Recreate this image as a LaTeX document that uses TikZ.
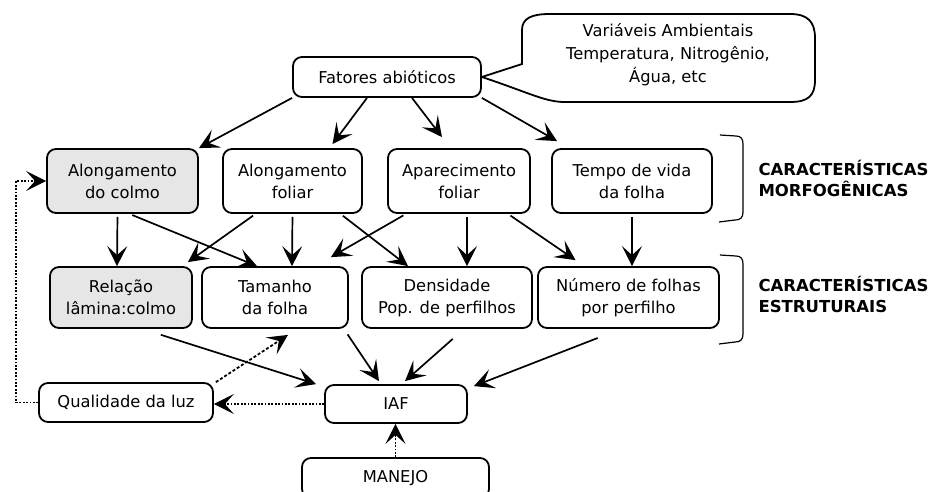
\documentclass[tikz,border=0pt]{standalone}
\usepackage{fontspec}
\setmainfont{DejaVu Sans}
\usetikzlibrary{arrows.meta}
\definecolor{cinza}{HTML}{E6E6E6}
\tikzset{
    caixa/.style={draw, rounded corners=9pt, line width=1.8pt, align=center, inner sep=0pt, font=\fontsize{16.3}{22}\selectfont},
    seta/.style={-{Stealth[length=20pt,width=20pt,inset=9pt]}, line width=1.7pt, shorten <=3pt},
    pontilhada/.style={-{Stealth[length=20pt,width=20pt,inset=9pt]}, line width=1.8pt, dash pattern=on 1.8pt off 1.6pt},
    rotulo/.style={anchor=west, align=left, font=\bfseries\fontsize{16.5}{21}\selectfont},
    chave/.style={line width=1.2pt}
}

\begin{document}
\begin{tikzpicture}[x=1pt,y=-1pt]
    \useasboundingbox (0,0) rectangle (938,491);
    \node[caixa, minimum width=188pt, minimum height=40pt] (fatores) at (387,77) {Fatores abióticos};
    \draw[line width=1.8pt] (fatores.east) -- (522,64) -- (522,30) .. controls (522,18) and (532,14) .. (550,14) -- (790,14) .. controls (808,14) and (815,22) .. (815,38) -- (815,80) .. controls (815,96) and (808,102) .. (790,102) -- (565,102) .. controls (545,102) and (530,93) .. (fatores.east);
    \node[align=center, font=\fontsize{16.3}{23}\selectfont] (variaveis) at (668,55) {Variáveis Ambientais\\Temperatura, Nitrogênio,\\Água, etc};

    \node[caixa, fill=cinza, minimum width=151pt, minimum height=64pt] (acolmo) at (122.5,181) {Alongamento\\do colmo};
    \node[caixa, minimum width=139pt, minimum height=64pt] (afol) at (292.5,181) {Alongamento\\foliar};
    \node[caixa, minimum width=142pt, minimum height=64pt] (apar) at (459,181) {Aparecimento\\foliar};
    \node[caixa, minimum width=160pt, minimum height=64pt] (tempo) at (632,181) {Tempo de vida\\da folha};

    \node[caixa, fill=cinza, minimum width=142pt, minimum height=61pt] (rel) at (121,297.5) {Relação\\lâmina:colmo};
    \node[caixa, minimum width=146pt, minimum height=61pt] (tam) at (275,297.5) {Tamanho\\da folha};
    \node[caixa, minimum width=170pt, minimum height=61pt] (dens) at (447,297.5) {Densidade\\Pop. de perfilhos};
    \node[caixa, minimum width=181pt, minimum height=61pt] (num) at (628.5,297.5) {Número de folhas\\por perfilho};

    \node[caixa, minimum width=174pt, minimum height=39pt] (qual) at (126,402.5) {Qualidade da luz};
    \node[caixa, minimum width=142pt, minimum height=38pt] (iaf) at (396,404) {IAF};
    \node[caixa, minimum width=187pt, minimum height=40pt] (manejo) at (395.5,478) {MANEJO};

    \draw[chave] (720,135) -- (736,136) .. controls (741,136) and (743,139) .. (743,144) -- (743,212) .. controls (743,218) and (740,220) .. (735,220) -- (719,222);
    \draw[chave] (720,255) -- (736,256) .. controls (741,256) and (743,259) .. (743,264) -- (743,334) .. controls (743,340) and (740,342) .. (735,342) -- (719,344);
    \node[rotulo] (morfo) at (755,178.5) {CARACTERÍSTICAS\\MORFOGÊNICAS};
    \node[rotulo] (estru) at (755,294.5) {CARACTERÍSTICAS\\ESTRUTURAIS};

    \draw[seta, shorten <=0pt] (fatores.south west) -- (acolmo.north east);
    \draw[seta, shorten <=0pt] ([xshift=-20pt]fatores.south) -- ([xshift=40pt,yshift=4pt]afol.north);
    \draw[seta, shorten <=0pt] ([xshift=25pt]fatores.south) -- ([xshift=-17pt,yshift=11pt]apar.north);
    \draw[seta, shorten <=0pt] (fatores.south east) -- ([xshift=6pt,yshift=7pt]tempo.north west);

    \draw[seta] ([xshift=-5pt]acolmo.south) -- ([xshift=-4pt]rel.north);
    \draw[seta] ([xshift=7pt]acolmo.south) -- ([xshift=-18pt]tam.north);
    \draw[seta] ([xshift=-37pt]afol.south) -- ([xshift=-5pt,yshift=4pt]rel.north east);
    \draw[seta] (afol.south) -- ([xshift=17pt]tam.north);
    \draw[seta] ([xshift=48pt]afol.south) -- ([xshift=-39pt]dens.north);
    \draw[seta] ([xshift=-53pt]apar.south) -- ([xshift=-18pt,yshift=9pt]tam.north east);
    \draw[seta] ([xshift=8pt]apar.south) -- ([xshift=20pt]dens.north);
    \draw[seta] ([xshift=49pt]apar.south) -- ([xshift=-53pt,yshift=6pt]num.north);
    \draw[seta] (tempo.south) -- ([xshift=3.5pt]num.north);

    \draw[seta] ([xshift=37pt,yshift=-5pt]rel.south) -- ([xshift=-8pt]iaf.north west);
    \draw[seta] ([xshift=-3pt,yshift=-3pt]tam.south east) -- ([xshift=-17pt,yshift=3pt]iaf.north);
    \draw[seta] ([xshift=8pt,yshift=-8pt]dens.south) -- ([xshift=9pt,yshift=3pt]iaf.north);
    \draw[seta] ([xshift=-28pt,yshift=-8pt]num.south) -- ([xshift=6pt,yshift=-2pt]iaf.north east);

    \draw[pontilhada] (iaf.west) -- (iaf.west -| qual.east);
    \draw[pontilhada, dash pattern=on 3pt off 2pt] ([xshift=2pt]qual.north east) -- ([xshift=13pt,yshift=-6pt]tam.south);
    \draw[pontilhada] (qual.west) -- ++(-22,0) |- (acolmo.west);
    \draw[pontilhada] (manejo.north) -- (manejo.north |- iaf.south);
\end{tikzpicture}
\end{document}
